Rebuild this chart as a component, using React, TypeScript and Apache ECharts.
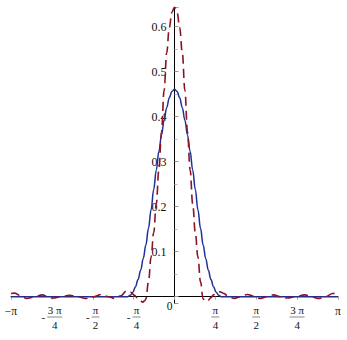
import React, { useEffect, useRef } from 'react';
import * as echarts from 'echarts';

const PI = Math.PI;

// Blue solid curve
const blueX = [-3.1416, -1.0, -0.9, -0.85, -0.8, -0.75, -0.7, -0.65, -0.6, -0.55, -0.5, -0.45, -0.4, -0.35, -0.3, -0.25, -0.2, -0.15, -0.1, -0.05, 0,
  0.05, 0.1, 0.15, 0.2, 0.25, 0.3, 0.35, 0.4, 0.45, 0.5, 0.55, 0.6, 0.65, 0.7, 0.75, 0.8, 0.85, 0.9, 1.0, 3.1416];
const blueY = [0, 0, 0, 0.003, 0.010, 0.022, 0.038, 0.059, 0.085, 0.115, 0.152, 0.193, 0.238, 0.281, 0.323, 0.359, 0.392, 0.420, 0.442, 0.456, 0.461,
  0.456, 0.442, 0.420, 0.392, 0.359, 0.323, 0.281, 0.238, 0.193, 0.152, 0.115, 0.085, 0.059, 0.038, 0.022, 0.010, 0.003, 0, 0, 0];

// Dark red dashed curve
const redX = [-3.1416, -3.07, -2.96, -2.84, -2.7, -2.54, -2.44, -2.34, -2.18, -2.02, -1.86, -1.71, -1.55, -1.40, -1.27, -1.15, -1.03, -0.92, -0.84, -0.77, -0.72, -0.66, -0.61, -0.57, -0.55,
  -0.5, -0.45, -0.4, -0.35, -0.3, -0.25, -0.2, -0.15, -0.1, -0.05, 0, 0.05, 0.1, 0.15, 0.2, 0.25, 0.3, 0.35, 0.4, 0.45, 0.5,
  0.55, 0.6, 0.65, 0.7, 0.75, 0.8, 0.875, 0.95, 1.02, 1.15, 1.27, 1.40, 1.52, 1.65, 1.78, 1.9, 2.03, 2.16, 2.33, 2.5, 2.63, 2.76, 2.9, 3.04, 3.1416];
const redY = [0.007, 0.008, 0.002, -0.004, -0.001, 0.004, 0.0, -0.003, 0.0, 0.003, 0.0, -0.004, 0.0, 0.005, 0.0, -0.004, 0.002, 0.013, 0.010, 0.003, -0.002, -0.009, -0.012, -0.009, -0.005,
  0.033, 0.088, 0.142, 0.206, 0.282, 0.366, 0.458, 0.542, 0.598, 0.632, 0.643, 0.632, 0.598, 0.542, 0.458, 0.366, 0.282, 0.206, 0.142, 0.088, 0.033,
  -0.005, -0.011, -0.008, -0.002, 0.004, 0.009, 0.011, 0.007, 0.002, -0.004, 0.0, 0.005, 0.001, -0.004, 0.0, 0.004, 0.0, -0.003, 0.0, 0.004, 0.0, -0.004, 0.0, 0.007, 0.009];

// x tick labels at multiples of pi/4, from -pi to pi
const xTickSign = ['−', '-', '-', '-', '', '', '', '', ''];
const xTickNum = ['π', '3 π', 'π', 'π', '0', 'π', 'π', '3 π', 'π'];
const xTickDen = ['', '4', '2', '4', '', '4', '2', '4', ''];

const yMin = -0.0147;
const yMax = 0.643;

const FONT = "'Liberation Serif', 'DejaVu Serif', serif";
const BLUE = '#1f2f98';
const RED = '#8a1424';

const GRID_LEFT = 11;
const GRID_RIGHT = 9;
const GRID_TOP = 7.35;
const GRID_BOTTOM = 36.7;
const W = 347;
const H = 340;

function xLabel(value: number): string {
  const k = Math.round(value / (PI / 4)) + 4;
  if (k < 0 || k > 8) return '';
  const num = xTickNum[k];
  const den = xTickDen[k];
  const sign = xTickSign[k];
  if (k === 4) return '{z|0}';
  if (!den) return `{s|${sign}${num}}`;
  const bar = num.length > 1 ? 'barL' : 'barS';
  if (sign) {
    return `{sp| }{num|${num}}\n{mi|${sign}}{gap| }{${bar}| }\n{sp2| }{den|${den}}`;
  }
  return `{num|${num}}\n{${bar}| }\n{den|${den}}`;
}

export default function App() {
  const ref = useRef<HTMLDivElement>(null);
  useEffect(() => {
    document.body.style.margin = '0';
    const chart = echarts.init(ref.current!, undefined, { renderer: 'svg' });
    const blueData = blueX.map((x, i) => [x, blueY[i]]);
    const redData = redX.map((x, i) => [x, redY[i]]);
    // place the axes through the origin (as the reference does)
    const plotW = W - GRID_LEFT - GRID_RIGHT;
    const plotH = H - GRID_TOP - GRID_BOTTOM;
    const yAxisOffset = -plotW / 2; // x = 0 is the middle of [-pi, pi]
    const xAxisOffset = -plotH * (0 - yMin) / (yMax - yMin);
    chart.setOption({
      animation: false,
      backgroundColor: '#ffffff',
      grid: { left: GRID_LEFT, right: GRID_RIGHT, top: GRID_TOP, bottom: GRID_BOTTOM, containLabel: false, outerBoundsMode: 'none' },
      xAxis: {
        type: 'value',
        min: -PI,
        max: PI,
        interval: PI / 4,
        offset: xAxisOffset,
        axisLine: { onZero: false, lineStyle: { color: '#000', width: 1 } },
        axisTick: { show: true, length: 3, lineStyle: { color: '#aaa' } },
        splitLine: { show: false },
        axisLabel: {
          margin: 7.3,
          color: '#111',
          fontFamily: FONT,
          fontSize: 11.5,
          showMinLabel: true,
          showMaxLabel: true,
          hideOverlap: false,
          formatter: xLabel,
          rich: {
            s: { fontFamily: FONT, fontSize: 11.5, lineHeight: 15, color: '#111' },
            z: { fontFamily: FONT, fontSize: 11.5, lineHeight: 4, padding: [0, 10, 0, 0], color: '#111' },
            num: { fontFamily: FONT, fontSize: 11, lineHeight: 12, color: '#111' },
            den: { fontFamily: FONT, fontSize: 11, lineHeight: 14, color: '#111' },
            sp: { fontSize: 11, width: 5.7, lineHeight: 12 },
            sp2: { fontSize: 11, width: 5.7, lineHeight: 14 },
            mi: { fontFamily: FONT, fontSize: 11, lineHeight: 2, color: '#111' },
            gap: { fontSize: 2, width: 2, lineHeight: 2 },
            barS: { fontSize: 1, width: 8, height: 1, lineHeight: 2, backgroundColor: '#888' },
            barL: { fontSize: 1, width: 15, height: 1, lineHeight: 2, backgroundColor: '#888' },
          },
        },
      },
      yAxis: {
        type: 'value',
        min: yMin,
        max: yMax,
        splitNumber: 5,
        offset: yAxisOffset,
        axisLine: { onZero: false, lineStyle: { color: '#000', width: 1 } },
        axisTick: { show: true, inside: true, length: 4, lineStyle: { color: '#999' } },
        minorTick: { show: true, splitNumber: 2, length: 3, lineStyle: { color: '#bbb' } },
        splitLine: { show: false },
        axisLabel: {
          margin: 8,
          color: '#111',
          fontFamily: FONT,
          fontSize: 12,
          showMinLabel: true,
          showMaxLabel: true,
          formatter: (v: number) => {
            const t = Math.round(v * 10);
            if (t >= 1 && t <= 6 && Math.abs(v * 10 - t) < 1e-6) return (t / 10).toFixed(1);
            return '';
          },
        },
      },
      series: [
        {
          type: 'line',
          data: blueData,
          showSymbol: false,
          smooth: 0.4,
          smoothMonotone: 'x',
          clip: false,
          lineStyle: { color: BLUE, width: 1.5 },
          z: 3,
        },
        {
          type: 'line',
          data: redData,
          showSymbol: false,
          smooth: 0.4,
          smoothMonotone: 'x',
          clip: false,
          lineStyle: { color: RED, width: 1.6, type: [9, 5] },
          z: 4,
        },
      ],
    });
    return () => chart.dispose();
  }, []);
  return <div ref={ref} style={{ width: W, height: H }} />;
}
